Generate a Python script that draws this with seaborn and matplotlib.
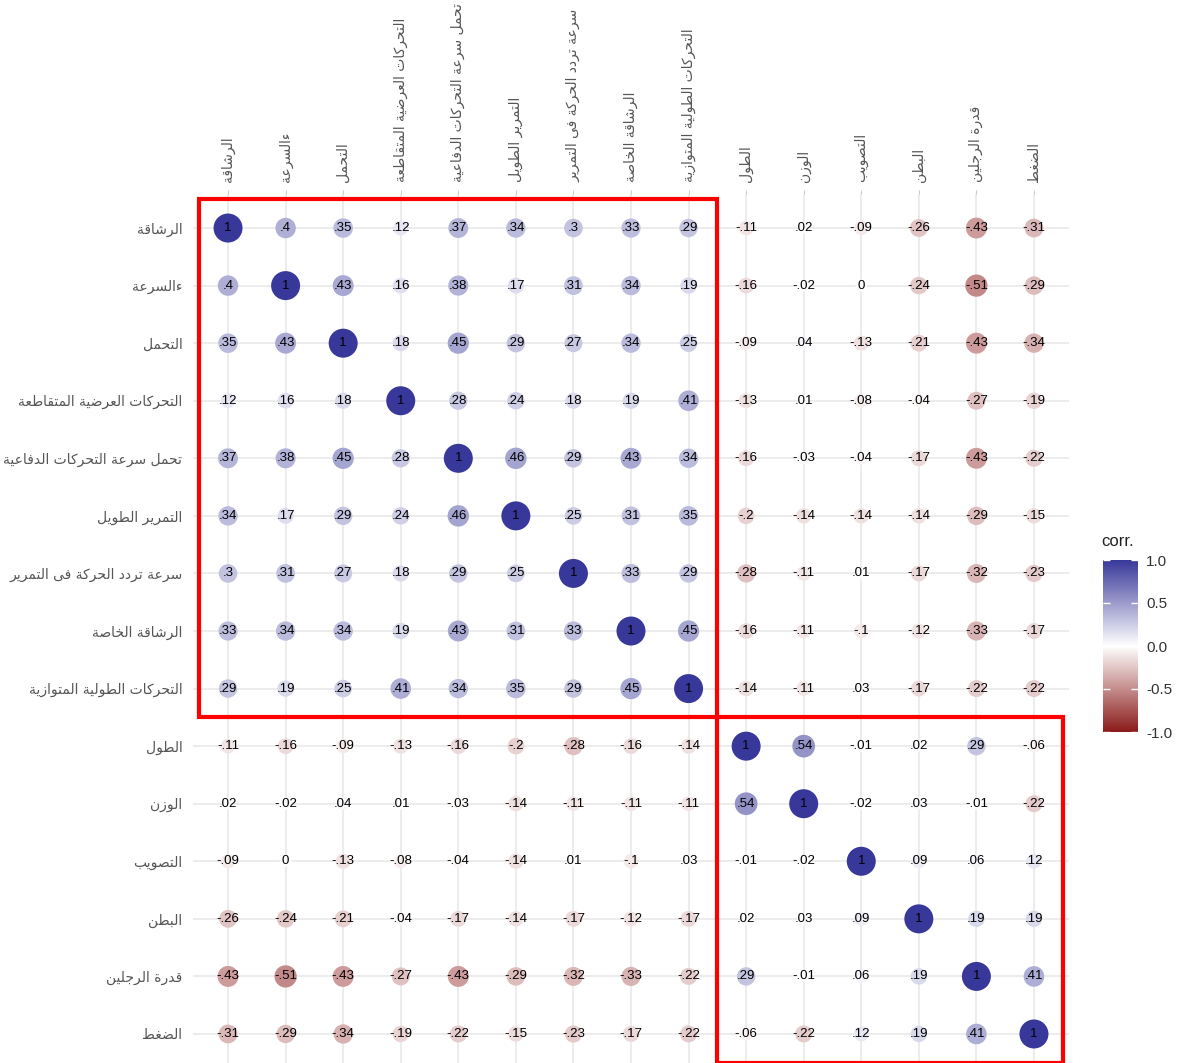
import numpy as np
import pandas as pd
import seaborn as sns
from matplotlib import pyplot as plt
from matplotlib import colors as mpl_colors
from matplotlib.cm import ScalarMappable
from matplotlib.patches import Rectangle

# variable names (logical Arabic order)
skill_labels = [
    "الرشاقة",
    "ءالسرعة",
    "التحمل",
    "التحركات العرضية المتقاطعة",
    "تحمل سرعة التحركات الدفاعية",
    "التمرير الطويل",
    "سرعة تردد الحركة فى التمرير",
    "الرشاقة الخاصة",
    "التحركات الطولية المتوازية",
]
body_labels = ["الطول", "الوزن", "التصويب", "البطن", "قدرة الرجلين", "الضغط"]

# skills x skills
skills_corr = [
    [1, .4, .35, .12, .37, .34, .3, .33, .29],
    [.4, 1, .43, .16, .38, .17, .31, .34, .19],
    [.35, .43, 1, .18, .45, .29, .27, .34, .25],
    [.12, .16, .18, 1, .28, .24, .18, .19, .41],
    [.37, .38, .45, .28, 1, .46, .29, .43, .34],
    [.34, .17, .29, .24, .46, 1, .25, .31, .35],
    [.3, .31, .27, .18, .29, .25, 1, .33, .29],
    [.33, .34, .34, .19, .43, .31, .33, 1, .45],
    [.29, .19, .25, .41, .34, .35, .29, .45, 1],
]
# skills x body
cross_corr = [
    [-.11, .02, -.09, -.26, -.43, -.31],
    [-.16, -.02, 0, -.24, -.51, -.29],
    [-.09, .04, -.13, -.21, -.43, -.34],
    [-.13, .01, -.08, -.04, -.27, -.19],
    [-.16, -.03, -.04, -.17, -.43, -.22],
    [-.2, -.14, -.14, -.14, -.29, -.15],
    [-.28, -.11, .01, -.17, -.32, -.23],
    [-.16, -.11, -.1, -.12, -.33, -.17],
    [-.14, -.11, .03, -.17, -.22, -.22],
]
# body x body
body_corr = [
    [1, .54, -.01, .02, .29, -.06],
    [.54, 1, -.02, .03, -.01, -.22],
    [-.01, -.02, 1, .09, .06, .12],
    [.02, .03, .09, 1, .19, .19],
    [.29, -.01, .06, .19, 1, .41],
    [-.06, -.22, .12, .19, .41, 1],
]

# minimal Arabic shaping (matplotlib has no bidi / joining)
AR_FORMS = {
    "ء": (0xFE80, 1), "آ": (0xFE81, 2), "أ": (0xFE83, 2), "ؤ": (0xFE85, 2),
    "إ": (0xFE87, 2), "ئ": (0xFE89, 4), "ا": (0xFE8D, 2), "ب": (0xFE8F, 4),
    "ة": (0xFE93, 2), "ت": (0xFE95, 4), "ث": (0xFE99, 4), "ج": (0xFE9D, 4),
    "ح": (0xFEA1, 4), "خ": (0xFEA5, 4), "د": (0xFEA9, 2), "ذ": (0xFEAB, 2),
    "ر": (0xFEAD, 2), "ز": (0xFEAF, 2), "س": (0xFEB1, 4), "ش": (0xFEB5, 4),
    "ص": (0xFEB9, 4), "ض": (0xFEBD, 4), "ط": (0xFEC1, 4), "ظ": (0xFEC5, 4),
    "ع": (0xFEC9, 4), "غ": (0xFECD, 4), "ف": (0xFED1, 4), "ق": (0xFED5, 4),
    "ك": (0xFED9, 4), "ل": (0xFEDD, 4), "م": (0xFEE1, 4), "ن": (0xFEE5, 4),
    "ه": (0xFEE9, 4), "و": (0xFEED, 2), "ى": (0xFEEF, 2), "ي": (0xFEF1, 4),
}


def shape_ar(text):
    out = []
    n = len(text)
    i = 0
    while i < n:
        ch = text[i]
        if ch not in AR_FORMS:
            out.append(ch)
            i += 1
            continue
        prev = text[i - 1] if i > 0 else ""
        join_prev = prev in AR_FORMS and AR_FORMS[prev][1] == 4 and AR_FORMS[ch][1] >= 2
        if ch == "ل" and i + 1 < n and text[i + 1] == "ا":
            out.append(chr(0xFEFC if join_prev else 0xFEFB))
            i += 2
            continue
        base, nf = AR_FORMS[ch]
        nxt = text[i + 1] if i + 1 < n else ""
        join_next = nf == 4 and nxt in AR_FORMS and AR_FORMS[nxt][1] >= 2
        if join_prev and join_next:
            code = base + 3
        elif join_prev:
            code = base + 1
        elif join_next:
            code = base + 2
        else:
            code = base
        out.append(chr(code))
        i += 1
    return "".join(reversed(out))


def fmt_corr(v):
    return f"{v:g}".replace("0.", ".", 1)


labels = skill_labels + body_labels
mat = np.block([[np.array(skills_corr), np.array(cross_corr)],
                [np.array(cross_corr).T, np.array(body_corr)]])
n = len(labels)
yy, xx = np.meshgrid(np.arange(n), np.arange(n), indexing="ij")
df = pd.DataFrame({"col": xx.ravel(), "row": yy.ravel(), "corr": mat.ravel()})
df["abs_corr"] = df["corr"].abs()

sns.set_style("white")
plt.rcParams["font.family"] = ["Liberation Sans", "DejaVu Sans"]

cmap = mpl_colors.LinearSegmentedColormap.from_list(
    "corr", ["#8B1A1A", "#FFFFFF", "#38389A"])

fig = plt.figure(figsize=(11.83, 10.63), dpi=100)
ax = fig.add_axes([193.5 / 1183, 0, 875 / 1183, 869.5 / 1063])

sns.scatterplot(
    data=df, x="col", y="row", hue="corr", palette=cmap, hue_norm=(-1, 1),
    size="abs_corr", sizes=(70, 436), size_norm=(0, 1), linewidth=0,
    legend=False, ax=ax, zorder=3,
)
for _, r in df.iterrows():
    ax.text(r["col"], r["row"], fmt_corr(r["corr"]), ha="center", va="center",
            fontsize=9.5, color="black", zorder=4)

ax.set_xlim(-0.6, n - 1 + 0.6)
ax.set_ylim(n - 1 + 0.504, -0.6)
ax.set_xticks(range(n))
ax.set_yticks(range(n))
ax.xaxis.tick_top()
shaped = [shape_ar(s) for s in labels]
ax.set_xticklabels(shaped, rotation=90, ha="center", va="bottom",
                   family=["DejaVu Sans"], fontsize=10, color="#555555")
ax.set_yticklabels(shaped, family=["DejaVu Sans"], fontsize=10, color="#555555")
ax.tick_params(axis="both", length=3, width=0.8, color="#cccccc", pad=5)
ax.set_xlabel("")
ax.set_ylabel("")
ax.grid(True, color="#ebebeb", linewidth=1.3)
ax.set_axisbelow(True)
for s in ax.spines.values():
    s.set_visible(False)

# group boxes
k = len(skill_labels)
ax.add_patch(Rectangle((-0.5, -0.5), k, k, fill=False, edgecolor="red",
                       linewidth=3, zorder=5, clip_on=False))
ax.add_patch(Rectangle((k - 0.5, k - 0.5), n - k, n - k, fill=False,
                       edgecolor="red", linewidth=3, zorder=5, clip_on=False))

# colour bar
cax = fig.add_axes([1103 / 1183, (1063 - 732) / 1063, 35 / 1183, 172 / 1063])
cb = fig.colorbar(ScalarMappable(norm=mpl_colors.Normalize(-1, 1), cmap=cmap), cax=cax)
cb.outline.set_visible(False)
cb.set_ticks([1, 0.5, 0, -0.5, -1])
cb.set_ticklabels(["1.0", "0.5", "0.0", "-0.5", "-1.0"])
cax.tick_params(length=0, labelsize=11, colors="#333333", pad=6)
cax.hlines([1, 0.5, 0, -0.5, -1], 0, 0.2, color="white", linewidth=1)
cax.hlines([1, 0.5, 0, -0.5, -1], 0.8, 1, color="white", linewidth=1)
fig.text(1101 / 1183, 1 - 541 / 1063, "corr.", fontsize=12, color="#222222",
         ha="left", va="center")

fig.savefig("out.png", dpi=100)
